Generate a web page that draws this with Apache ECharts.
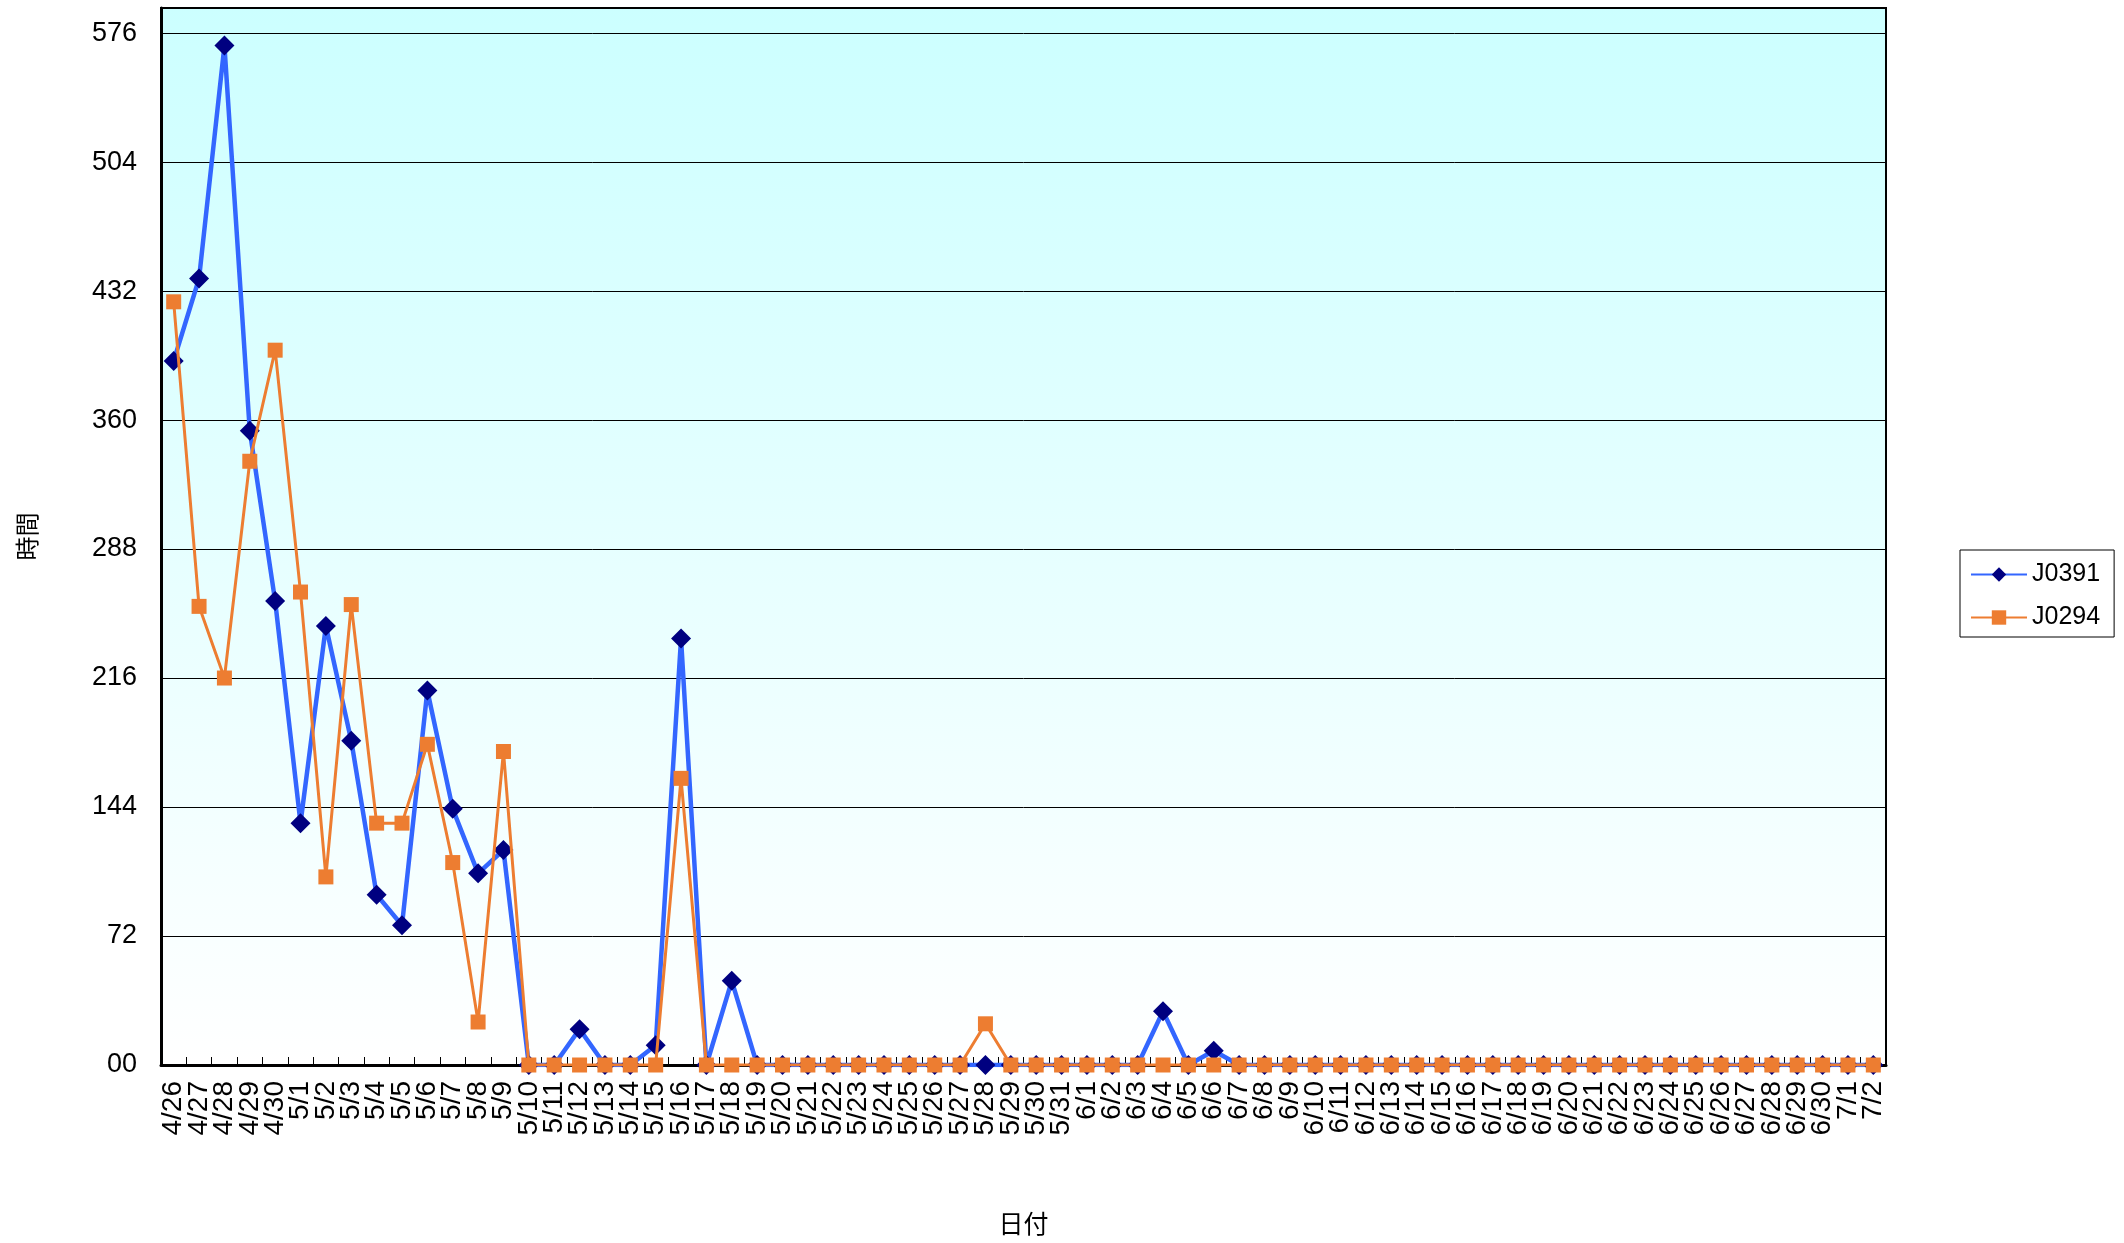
<!DOCTYPE html>
<html>
<head>
<meta charset="utf-8">
<script src="https://cdn.jsdelivr.net/npm/echarts/dist/echarts.min.js"></script>
<style>
html,body{margin:0;padding:0;background:#fff;}
#c{width:2124px;height:1243px;}
</style>
</head>
<body>
<div id="c"></div>
<script>
var categories = ['4/26','4/27','4/28','4/29','4/30',
'5/1','5/2','5/3','5/4','5/5','5/6','5/7','5/8','5/9','5/10','5/11','5/12','5/13','5/14','5/15','5/16','5/17','5/18','5/19','5/20','5/21','5/22','5/23','5/24','5/25','5/26','5/27','5/28','5/29','5/30','5/31',
'6/1','6/2','6/3','6/4','6/5','6/6','6/7','6/8','6/9','6/10','6/11','6/12','6/13','6/14','6/15','6/16','6/17','6/18','6/19','6/20','6/21','6/22','6/23','6/24','6/25','6/26','6/27','6/28','6/29','6/30',
'7/1','7/2'];

var seriesNames = ['J0391','J0294'];

var j0391 = [393,439,569,354,259,
135,245,181,95,78,209,143,107,120,0,0,20,0,0,11,238,0,47,0,0,0,0,0,0,0,0,0,0,0,0,0,
0,0,0,30,0,8,0,0,0,0,0,0,0,0,0,0,0,0,0,0,0,0,0,0,0,0,0,0,0,0,
0,0];

var j0294 = [426,256,216,337,399,
264,105,257,135,135,179,113,24,175,0,0,0,0,0,0,160,0,0,0,0,0,0,0,0,0,0,0,23,0,0,0,
0,0,0,0,0,0,0,0,0,0,0,0,0,0,0,0,0,0,0,0,0,0,0,0,0,0,0,0,0,0,
0,0];

var yTicks = [0,72,144,216,288,360,432,504,576];
var yTitle = '時間';
var xTitle = '日付';

var chart = echarts.init(document.getElementById('c'), null, {renderer:'canvas'});
var numFont = '"Liberation Sans", Arial, sans-serif';
var cjkFont = '"Noto Sans CJK JP", sans-serif';

chart.setOption({
  animation:false,
  backgroundColor:'#ffffff',
  grid:{
    left:161, right:238, top:8, bottom:178,
    show:true,
    borderColor:'#000', borderWidth:2,
    backgroundColor:new echarts.graphic.LinearGradient(0,0,0,1,[
      {offset:0,color:'#CCFFFF'},
      {offset:1,color:'#FFFFFF'}
    ])
  },
  legend:{
    orient:'vertical',
    left:1960, top:550,
    padding:[12,14,7,10],
    itemGap:18,
    itemWidth:56, itemHeight:18,
    borderColor:'#000', borderWidth:1,
    backgroundColor:'#fff',
    textStyle:{fontFamily:numFont,fontSize:25,color:'#000'},
    data:seriesNames
  },
  xAxis:{
    type:'category',
    data:categories,
    boundaryGap:true,
    name:xTitle,
    nameLocation:'middle',
    nameGap:146,
    nameTextStyle:{fontFamily:cjkFont,fontSize:25,color:'#000'},
    axisLine:{lineStyle:{color:'#000',width:3}},
    axisTick:{show:true,inside:true,length:8,interval:0,lineStyle:{color:'#000',width:1}},
    axisLabel:{interval:0,rotate:90,margin:16,fontFamily:numFont,fontSize:28,color:'#000'},
    splitLine:{show:false}
  },
  yAxis:{
    type:'value',
    min:0, max:590, interval:72,
    name:yTitle,
    nameLocation:'middle',
    nameRotate:90,
    nameGap:122,
    nameTextStyle:{fontFamily:cjkFont,fontSize:24,color:'#000'},
    axisLine:{show:true,lineStyle:{color:'#000',width:3}},
    axisTick:{show:true,inside:true,length:9,lineStyle:{color:'#000'}},
    axisLabel:{
      margin:24,fontFamily:numFont,fontSize:27,color:'#000',
      showMaxLabel:false,
      formatter:function(v){ if(yTicks.indexOf(v)<0) return ''; return v===0?'00':String(v); }
    },
    splitLine:{show:true,lineStyle:{color:'#000',width:1}}
  },
  series:[
    {
      name:seriesNames[0], type:'line', data:j0391,
      symbol:'diamond', symbolSize:20,
      lineStyle:{color:'#3366FF',width:4.5},
      itemStyle:{color:'#000080'},
      z:2
    },
    {
      name:seriesNames[1], type:'line', data:j0294,
      symbol:'rect', symbolSize:15,
      lineStyle:{color:'#ED7D31',width:3},
      itemStyle:{color:'#ED7D31'},
      z:3
    }
  ]
});
</script>
</body>
</html>
